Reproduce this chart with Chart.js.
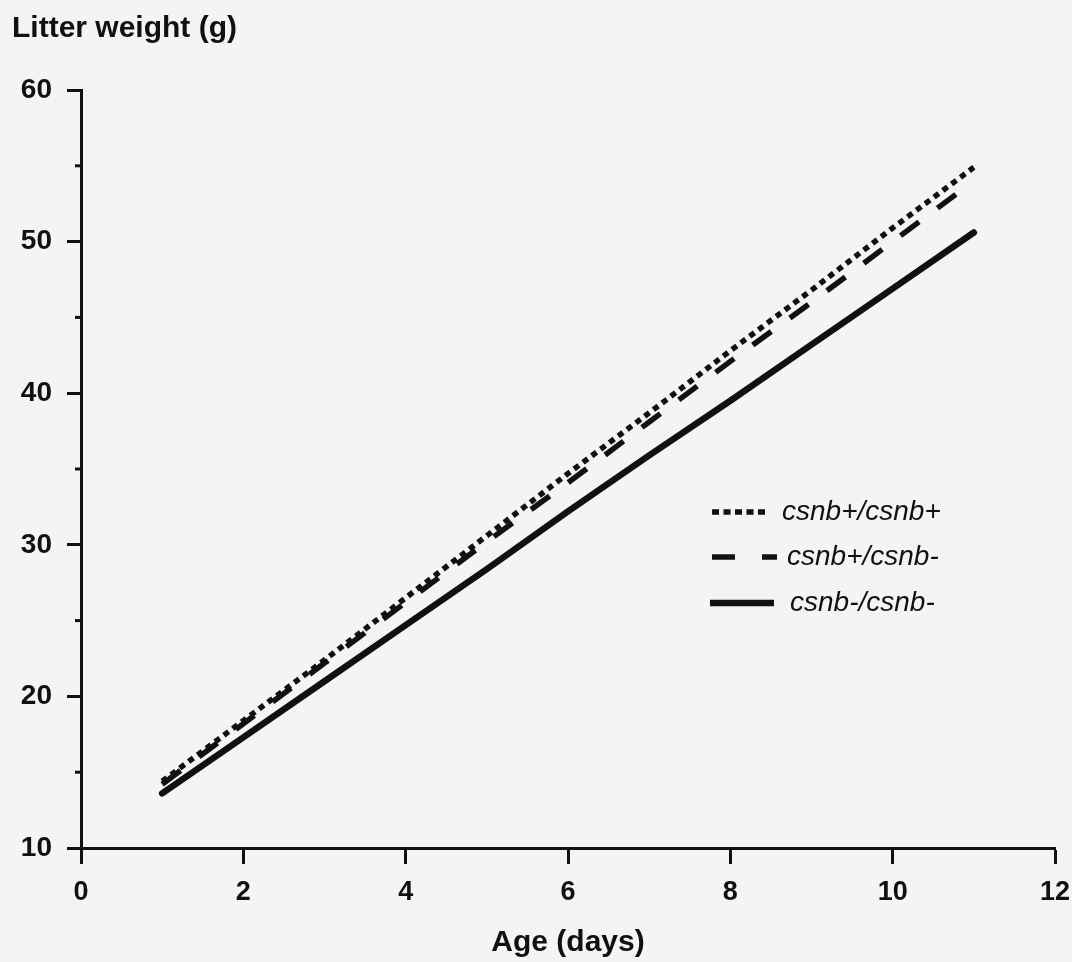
<!DOCTYPE html>
<html>
<head>
<meta charset="utf-8">
<script src="https://cdn.jsdelivr.net/npm/chart.js@4"></script>
<style>
  html, body { margin: 0; padding: 0; background: #f4f4f4; }
  #wrap { width: 1072px; height: 962px; }
</style>
</head>
<body>
<div id="wrap"><canvas id="litterChart"></canvas></div>
<script>
// ikä päivinä ja poikueen paino (g)
const days = [1, 2, 3, 4, 5, 6, 7, 8, 9, 10, 11];
const plusPlus = [14.4, 18.4, 22.4, 26.5, 30.6, 34.7, 38.7, 42.8, 46.8, 50.9, 54.9];
const plusMinus = [14.2, 18.2, 22.2, 26.2, 30.2, 34.1, 38.1, 42.1, 46.0, 50.0, 54.0];
const minusMinus = [13.6, 17.3, 21.0, 24.7, 28.4, 32.2, 35.9, 39.5, 43.2, 46.9, 50.6];
const seriesLabels = ['csnb+/csnb+', 'csnb+/csnb-', 'csnb-/csnb-'];
const minorYTicks = [15, 25, 35, 45, 55];

const ink = '#111';
const fontFamily = "'Liberation Sans', Arial, sans-serif";

function toPoints(values) {
    return days.map((d, i) => ({ x: d, y: values[i] }));
}

// pienet väliviivat y-akselille
const minorTicks = {
    id: 'minorTicks',
    afterDraw(chart) {
        const ctx = chart.ctx;
        const y = chart.scales.y;
        ctx.save();
        ctx.strokeStyle = ink;
        ctx.lineWidth = 3;
        minorYTicks.forEach(v => {
            const py = y.getPixelForValue(v);
            ctx.beginPath();
            ctx.moveTo(y.right - 6, py);
            ctx.lineTo(y.right, py);
            ctx.stroke();
        });
        ctx.restore();
    }
};

// selite piirretään itse, jotta viivanäytteet ovat kuten alkuperäisessä
const legendRows = [
    { y: 512, x0: 712, x1: 768, tx: 782, dash: [7, 4.5] },
    { y: 557, x0: 712, x1: 777, tx: 787, dash: [23, 27] },
    { y: 603, x0: 710, x1: 774, tx: 790, dash: [] }
];
const customLegend = {
    id: 'customLegend',
    afterDraw(chart) {
        const ctx = chart.ctx;
        ctx.save();
        chart.data.datasets.forEach((ds, i) => {
            const r = legendRows[i];
            ctx.strokeStyle = ink;
            ctx.lineWidth = ds.borderWidth;
            ctx.lineCap = 'butt';
            ctx.setLineDash(r.dash);
            ctx.beginPath();
            ctx.moveTo(r.x0, r.y);
            ctx.lineTo(r.x1, r.y);
            ctx.stroke();
            ctx.setLineDash([]);
            ctx.fillStyle = ink;
            ctx.font = 'italic 28px ' + fontFamily;
            ctx.textBaseline = 'middle';
            ctx.textAlign = 'left';
            ctx.fillText(ds.label, r.tx, r.y);
        });
        ctx.restore();
    }
};

const ctx = document.getElementById('litterChart').getContext('2d');
new Chart(ctx, {
    type: 'line',
    data: {
        datasets: [
            { label: seriesLabels[0], data: toPoints(plusPlus), borderColor: ink, borderWidth: 5.5, borderDash: [6, 5] },
            { label: seriesLabels[1], data: toPoints(plusMinus), borderColor: ink, borderWidth: 5.5, borderDash: [23, 23] },
            { label: seriesLabels[2], data: toPoints(minusMinus), borderColor: ink, borderWidth: 6.5, borderCapStyle: 'round' }
        ]
    },
    options: {
        responsive: true,
        maintainAspectRatio: false,
        animation: false,
        layout: { padding: { left: 12, right: 0, top: 0, bottom: 0 } },
        elements: { point: { radius: 0 }, line: { tension: 0, fill: false } },
        plugins: {
            legend: { display: false },
            tooltip: { enabled: false },
            title: {
                display: true,
                text: 'Litter weight (g)',
                align: 'start',
                color: ink,
                font: { family: fontFamily, size: 30, weight: 'bold' },
                padding: { top: 11, bottom: 43 }
            }
        },
        scales: {
            x: {
                type: 'linear',
                min: 0,
                max: 12,
                ticks: { stepSize: 2, color: ink, padding: 12, font: { family: fontFamily, size: 27, weight: 'bold' } },
                grid: { drawOnChartArea: false, tickLength: 16, tickWidth: 3, color: ink },
                border: { width: 3, color: ink },
                title: {
                    display: true,
                    text: 'Age (days)',
                    color: ink,
                    font: { family: fontFamily, size: 30, weight: 'bold' },
                    padding: { top: 4, bottom: 1 }
                },
                afterFit(scale) {
                    scale.height = 114;
                    scale.paddingRight = 17;
                }
            },
            y: {
                min: 10,
                max: 60,
                ticks: { stepSize: 10, color: ink, padding: 15, font: { family: fontFamily, size: 28, weight: 'bold' } },
                grid: { drawOnChartArea: false, tickLength: 14, tickWidth: 3, color: ink },
                border: { width: 3, color: ink },
                afterFit(scale) { scale.width = 69; }
            }
        }
    },
    plugins: [minorTicks, customLegend]
});
</script>
</body>
</html>
